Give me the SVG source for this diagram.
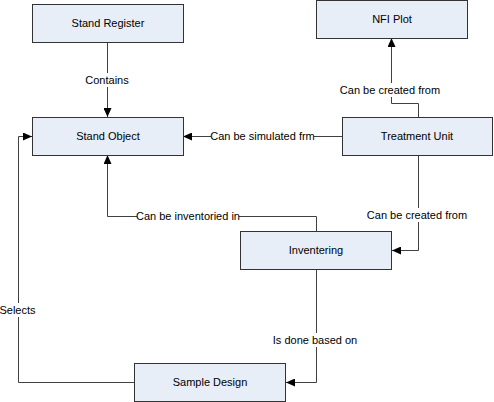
<svg xmlns="http://www.w3.org/2000/svg" width="494" height="402" viewBox="0 0 494 402">
<defs>
<style>
.box{fill:#E8EEF7;stroke:#333333;stroke-width:1}
.t{font-family:"Liberation Sans",Arial,sans-serif;font-size:11px;fill:#000;text-anchor:middle}
.c{fill:none;stroke:#404040;stroke-width:1}
.bg{fill:#ffffff}
</style>
<marker id="arr" markerWidth="9" markerHeight="8" refX="9" refY="4" orient="auto" markerUnits="userSpaceOnUse">
<path d="M0,0 L9,4 L0,8 z" fill="#000"/>
</marker>
</defs>
<rect width="494" height="402" fill="#ffffff"/>
<g id="connectors">
<path class="c" d="M107.5,42 V117" marker-end="url(#arr)"/>
<path class="c" d="M418.5,117 V103.5 H391.5 V38" marker-end="url(#arr)"/>
<path class="c" d="M342,136.5 H183" marker-end="url(#arr)"/>
<path class="c" d="M418.5,155 V250.5 H392" marker-end="url(#arr)"/>
<path class="c" d="M316.5,231 V216.5 H107.5 V155" marker-end="url(#arr)"/>
<path class="c" d="M316.5,269 V382.5 H286" marker-end="url(#arr)"/>
<path class="c" d="M134,382.5 H18.5 V136.5 H32" marker-end="url(#arr)"/>
<rect class="bg" x="85" y="73" width="45" height="14"/>
<text class="t" x="107" y="84">Contains</text>
<rect class="bg" x="341" y="83" width="98" height="14"/>
<text class="t" x="390" y="94">Can be created from</text>
<rect class="bg" x="211" y="129" width="103" height="14"/>
<text class="t" x="262.5" y="140">Can be simulated frm</text>
<rect class="bg" x="368" y="208" width="98" height="14"/>
<text class="t" x="417" y="219">Can be created from</text>
<rect class="bg" x="137" y="209" width="102" height="14"/>
<text class="t" x="188" y="220">Can be inventoried in</text>
<rect class="bg" x="273" y="333" width="84" height="14"/>
<text class="t" x="315" y="344">Is done based on</text>
<rect class="bg" x="0" y="303" width="36" height="14"/>
<text class="t" x="17.5" y="314">Selects</text>
</g>
<g id="stand-register">
<rect class="box" x="32.5" y="4.5" width="151" height="38"/>
<text class="t" x="108" y="27">Stand Register</text>
</g>
<g id="stand-object">
<rect class="box" x="32.5" y="117.5" width="151" height="38"/>
<text class="t" x="108" y="140">Stand Object</text>
</g>
<g id="nfi-plot">
<rect class="box" x="316.5" y="0.5" width="151" height="38"/>
<text class="t" x="392" y="23">NFI Plot</text>
</g>
<g id="treatment-unit">
<rect class="box" x="342.5" y="117.5" width="150" height="38"/>
<text class="t" x="417" y="140">Treatment Unit</text>
</g>
<g id="inventering">
<rect class="box" x="240.5" y="231.5" width="151" height="38"/>
<text class="t" x="316" y="254">Inventering</text>
</g>
<g id="sample-design">
<rect class="box" x="134.5" y="363.5" width="151" height="38"/>
<text class="t" x="210" y="386">Sample Design</text>
</g>
</svg>
